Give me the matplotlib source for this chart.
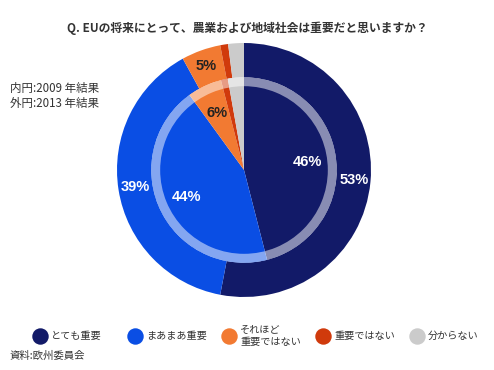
import numpy as np
import matplotlib
matplotlib.use("Agg")
import matplotlib.pyplot as plt
from matplotlib.patches import Wedge

plt.rcParams["font.family"] = ["Noto Sans CJK JP", "DejaVu Sans"]

categories = ["とても重要", "まあまあ重要", "それほど\n重要ではない", "重要ではない", "分からない"]
outer_2013 = [53, 39, 5, 1, 2]
inner_2009 = [46, 44, 6, 1.2, 2.8]
outer_labels = ["53%", "39%", "5%", "", ""]
inner_labels = ["46%", "44%", "6%", "", ""]
colors = ["#121a68", "#0a4ee4", "#f27a32", "#d03a0c", "#cbcbcb"]
label_colors = ["white", "white", "#222222", "#222222", "#222222"]

W, H = 494, 370
fig = plt.figure(figsize=(W / 100, H / 100), dpi=100)

cx, cy, r = 244, 170, 127
ax = fig.add_axes([(cx - r) / W, (H - cy - r) / H, 2 * r / W, 2 * r / H])
ax.set_aspect("equal")
ax.axis("off")

# outer ring = 2013, inner pie = 2009
ax.pie(outer_2013, radius=1, colors=colors, startangle=90, counterclock=False,
       wedgeprops=dict(width=0.27, linewidth=0))
ax.pie(inner_2009, radius=0.73, colors=colors, startangle=90, counterclock=False,
       wedgeprops=dict(linewidth=0))
ax.add_patch(Wedge((0, 0), 0.73, 0, 360, width=0.07, facecolor="white", alpha=0.5, linewidth=0))
ax.set_xlim(-1, 1)
ax.set_ylim(-1, 1)


def put_labels(vals, labels, rad):
    start = 90.0
    total = sum(vals)
    for v, lab, lc in zip(vals, labels, label_colors):
        ang = np.deg2rad(start - v / total * 360 / 2)
        start -= v / total * 360
        if lab:
            ax.text(rad * np.cos(ang), rad * np.sin(ang), lab, ha="center", va="center",
                    color=lc, fontsize=10.5, fontweight="bold",
                    family=["Liberation Sans Narrow", "Liberation Sans", "DejaVu Sans"])


put_labels(outer_2013, outer_labels, 0.87)
put_labels(inner_2009, inner_labels, 0.50)

fig.text(247 / W, 1 - 28 / H, "Q. EUの将来にとって、農業および地域社会は重要だと思いますか？",
         ha="center", va="center", fontsize=8.5, fontweight="bold", color="#333333")
fig.text(10 / W, 1 - 88 / H, "内円:2009 年結果", ha="left", va="center", fontsize=8.3, color="#333333")
fig.text(10 / W, 1 - 103 / H, "外円:2013 年結果", ha="left", va="center", fontsize=8.3, color="#333333")

# legend
marker_x = [40, 135, 229, 323, 417]
lx = fig.add_axes([0, 0, 1, 1], facecolor="none")
lx.set_xlim(0, W)
lx.set_ylim(H, 0)
lx.axis("off")
for mx, c, lab in zip(marker_x, colors, categories):
    lx.scatter(mx, 336, s=140, color=c, linewidths=0)
    lx.text(mx + 11, 336, lab, ha="left", va="center", fontsize=7.3, color="#333333",
            linespacing=1.2)
fig.text(10 / W, 1 - 356 / H, "資料:欧州委員会", ha="left", va="center", fontsize=7.5, color="#333333")

fig.savefig("out.png", dpi=100)
